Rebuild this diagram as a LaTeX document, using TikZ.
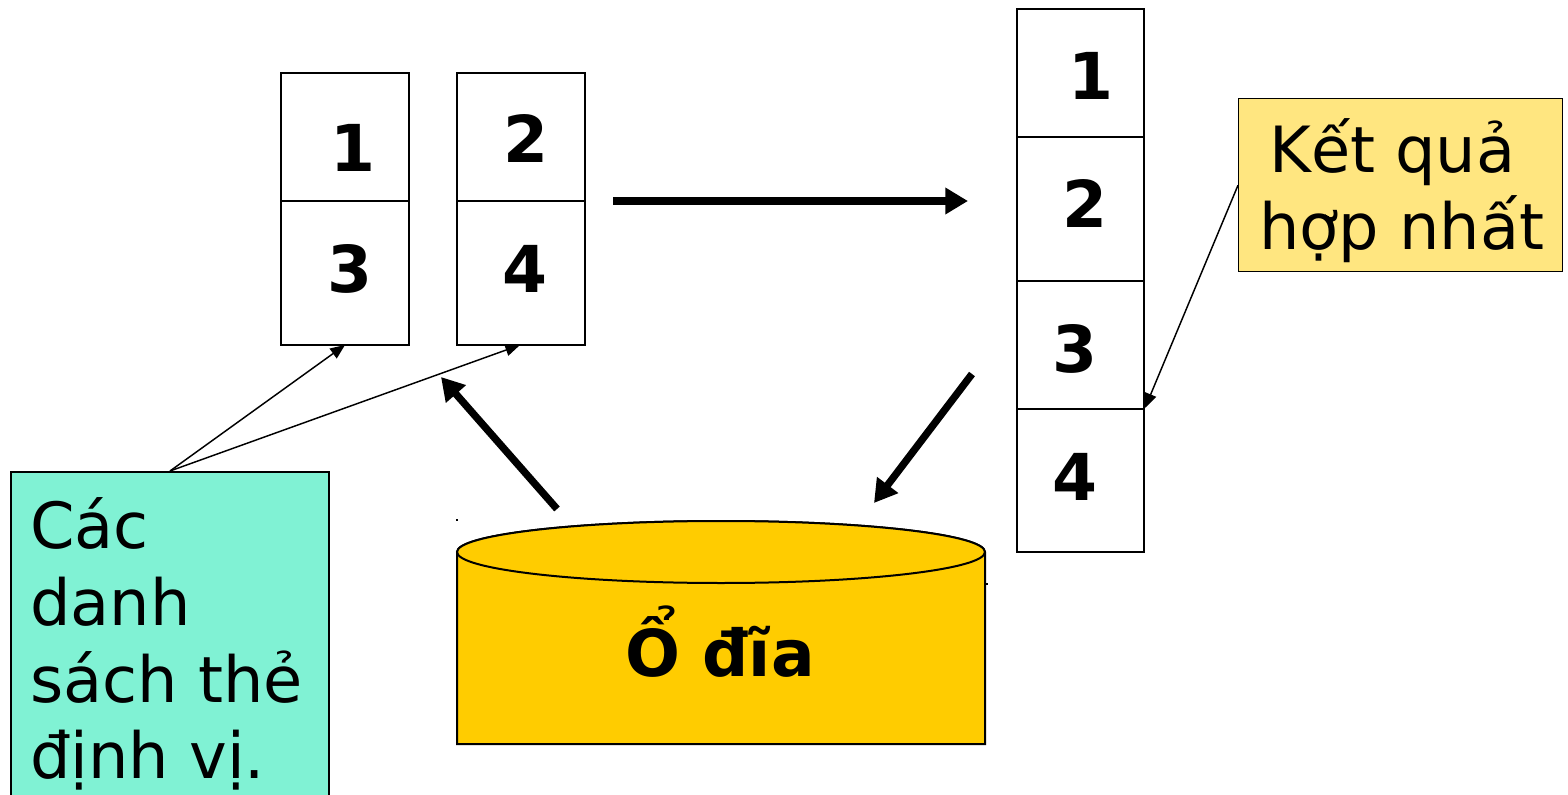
\documentclass[tikz,border=0pt]{standalone}
\usepackage{fontspec}
\setmainfont{DejaVu Sans}
\usetikzlibrary{arrows.meta}
\definecolor{teal1}{HTML}{80F2D4}
\definecolor{yel1}{HTML}{FFE680}
\definecolor{gold1}{HTML}{FFCC00}
\tikzset{
  cell/.style={draw=black,line width=1.5pt},
  num/.style={anchor=base,inner sep=0pt,font=\fontsize{48.5}{58}\selectfont\bfseries},
  big/.style={inner sep=0pt,font=\fontsize{47.8}{57.75}\selectfont},
  thickarrow/.style={line width=5.5pt,-{Triangle[length=17pt,width=19pt]}},
  thinarrow/.style={line width=1.1pt,-{Triangle[length=11pt,width=9pt]}},
}
\begin{document}
\begin{tikzpicture}[x=0.75pt,y=-0.75pt]
\useasboundingbox (0,0) rectangle (1568,795);
% left boxes
\draw[cell] (281,73) rectangle (409,345);
\draw[cell] (281,201) -- (409,201);
\node[coordinate] (A) at (345,345) {};
\node[num] (n1) at (353,172) {1};
\node[num] (n3) at (350,292) {3};
\draw[cell] (457,73) rectangle (585,345);
\draw[cell] (457,201) -- (585,201);
\node[coordinate] (B) at (520,345) {};
\node[num] (n2) at (526,163) {2};
\node[num] (n4) at (525,292) {4};
% right stack
\draw[cell] (1017,9) rectangle (1144,552);
\draw[cell] (1017,137) -- (1144,137);
\draw[cell] (1017,281) -- (1144,281);
\draw[cell] (1017,409) -- (1144,409);
\node[coordinate] (R) at (1145,408) {};
\node[num] (r1) at (1091,100) {1};
\node[num] (r2) at (1085,228) {2};
\node[num] (r3) at (1075,372) {3};
\node[num] (r4) at (1075,500) {4};
% big arrow
\coordinate (h1) at (613,201);
\coordinate (h2) at (968,201);
\draw[thickarrow] (h1) -- (h2);
% result box
\node[draw=black,line width=1.1pt,fill=yel1,minimum width=243pt,minimum height=129.75pt,anchor=north west,inner sep=0pt] (res) at (1238,98) {};
\node[big,anchor=base west] (t1) at (1269,173) {Kết quả};
\node[big,anchor=base west] (t2) at (1259,249) {hợp nhất};
\draw[thinarrow] (res.west) -- (R);
% list box
\node[draw=black,line width=1.5pt,fill=teal1,minimum width=238.5pt,minimum height=250pt,anchor=north west,inner sep=0pt] (lst) at (10,471) {};
\node[big,anchor=base west] (l1) at (30,548) {Các};
\node[big,anchor=base west] (l2) at (30,625) {danh};
\node[big,anchor=base west] (l3) at (30,702) {sách thẻ};
\node[big,anchor=base west] (l4) at (30,778) {định vị.};
\coordinate (L) at (170,471);
\draw[thinarrow] (L) -- (A);
\draw[thinarrow] (L) -- (B);
% disk
\draw[line width=1.5pt,fill=gold1] (457,552) -- (457,744) -- (985,744) -- (985,552) arc[start angle=0,end angle=-180,x radius=264,y radius=31] -- cycle;
\draw[line width=1.5pt,fill=gold1] (721,552) ellipse[x radius=264,y radius=31];
\node[num] (dl) at (720,676) {Ổ đĩa};
\fill (456,519) rectangle (458,521);
\fill (986,583) rectangle (988,585);
\coordinate (u1) at (557,509);
\coordinate (u2) at (441,377);
\draw[thickarrow] (u1) -- (u2);
\coordinate (d1) at (972,374);
\coordinate (d2) at (874,503);
\draw[thickarrow] (d1) -- (d2);
\end{tikzpicture}
\end{document}
